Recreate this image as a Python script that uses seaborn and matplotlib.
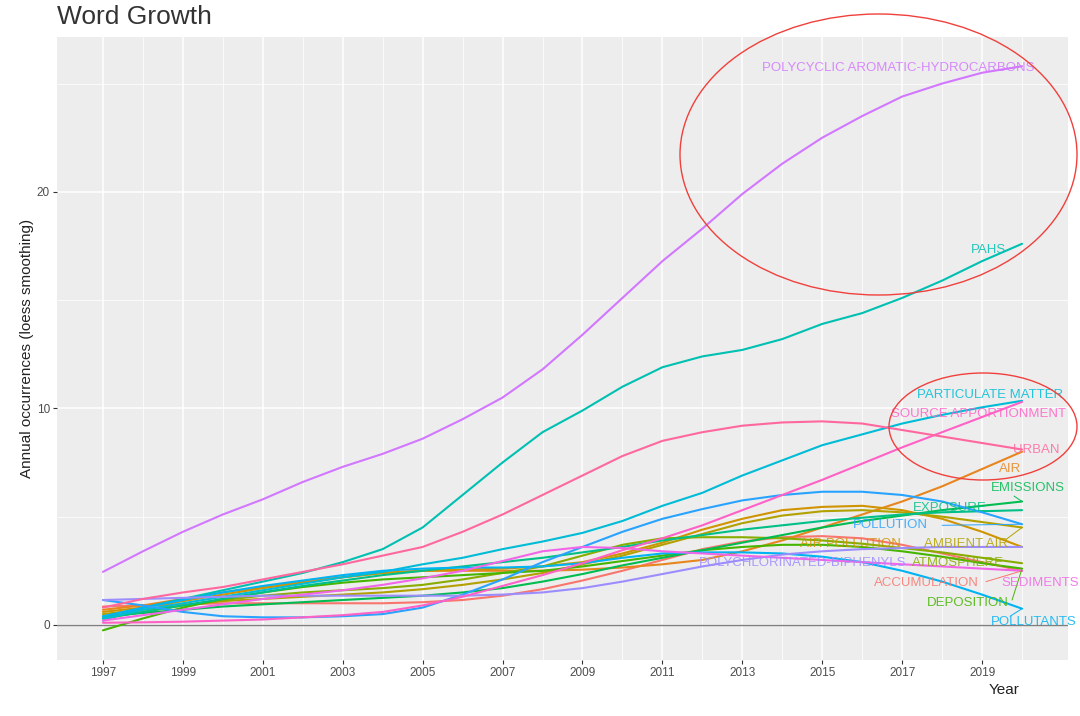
import numpy as np
import pandas as pd
import seaborn as sns
import matplotlib.pyplot as plt
from matplotlib.patches import Ellipse

years = list(range(1997, 2021))

terms = ["ACCUMULATION", "AIR", "AIR POLLUTION", "AMBIENT AIR", "ATMOSPHERE",
         "DEPOSITION", "EMISSIONS", "EXPOSURE", "PAHS", "PARTICULATE MATTER",
         "POLLUTANTS", "POLLUTION", "POLYCHLORINATED-BIPHENYLS",
         "POLYCYCLIC AROMATIC-HYDROCARBONS", "SEDIMENTS", "SOURCE APPORTIONMENT", "URBAN"]

accumulation = [0.85, 0.9, 0.95, 1.0, 1.0, 1.0, 1.0, 1.0, 1.05, 1.15, 1.35, 1.65,
                2.05, 2.5, 3.0, 3.5, 3.85, 4.05, 4.1, 4.0, 3.7, 3.3, 2.9, 2.5]
air = [0.7, 0.9, 1.2, 1.5, 1.75, 2.0, 2.2, 2.4, 2.5, 2.5, 2.5, 2.5,
       2.55, 2.65, 2.8, 3.0, 3.4, 3.9, 4.5, 5.1, 5.7, 6.4, 7.2, 8.0]
air_pollution = [0.6, 0.8, 1.1, 1.4, 1.7, 1.95, 2.2, 2.4, 2.5, 2.55, 2.6, 2.7,
                 2.9, 3.3, 3.8, 4.4, 4.9, 5.3, 5.45, 5.5, 5.3, 4.9, 4.3, 3.6]
ambient_air = [0.5, 0.7, 0.9, 1.1, 1.2, 1.3, 1.4, 1.5, 1.65, 1.85, 2.1, 2.4,
               2.8, 3.2, 3.7, 4.2, 4.7, 5.05, 5.25, 5.3, 5.2, 5.0, 4.75, 4.5]
atmosphere = [0.3, 0.6, 0.9, 1.15, 1.35, 1.5, 1.6, 1.7, 1.85, 2.1, 2.4, 2.7,
              3.2, 3.7, 4.0, 4.05, 4.05, 4.0, 3.9, 3.75, 3.55, 3.35, 3.1, 2.85]
deposition = [-0.25, 0.3, 0.8, 1.2, 1.5, 1.75, 1.95, 2.1, 2.2, 2.3, 2.4, 2.5,
              2.7, 2.95, 3.2, 3.45, 3.6, 3.7, 3.7, 3.6, 3.4, 3.15, 2.85, 2.6]
emissions = [0.4, 0.55, 0.7, 0.85, 0.95, 1.05, 1.15, 1.25, 1.35, 1.5, 1.7, 2.0,
             2.35, 2.75, 3.1, 3.45, 3.8, 4.15, 4.5, 4.8, 5.05, 5.3, 5.5, 5.7]
exposure = [0.3, 0.6, 0.9, 1.2, 1.5, 1.8, 2.05, 2.3, 2.5, 2.7, 2.9, 3.1,
            3.35, 3.6, 3.9, 4.15, 4.4, 4.6, 4.8, 4.95, 5.1, 5.2, 5.25, 5.3]
pahs = [0.2, 0.8, 1.2, 1.6, 2.0, 2.4, 2.9, 3.5, 4.5, 6.0, 7.5, 8.9,
        9.9, 11.0, 11.9, 12.4, 12.7, 13.2, 13.9, 14.4, 15.1, 15.9, 16.8, 17.6]
particulate_matter = [0.3, 0.7, 1.0, 1.3, 1.6, 1.9, 2.2, 2.45, 2.8, 3.1, 3.5, 3.85,
                      4.25, 4.8, 5.5, 6.1, 6.9, 7.6, 8.3, 8.8, 9.3, 9.7, 10.05, 10.35]
pollutants = [0.4, 0.8, 1.15, 1.5, 1.8, 2.05, 2.3, 2.5, 2.6, 2.65, 2.65, 2.7,
              2.85, 3.1, 3.3, 3.35, 3.35, 3.3, 3.15, 2.9, 2.5, 2.0, 1.4, 0.75]
pollution = [1.15, 0.9, 0.6, 0.4, 0.35, 0.35, 0.4, 0.5, 0.8, 1.4, 2.1, 2.9,
             3.6, 4.3, 4.9, 5.35, 5.75, 6.0, 6.15, 6.15, 6.0, 5.7, 5.2, 4.65]
pcbs = [1.15, 1.2, 1.25, 1.3, 1.35, 1.35, 1.35, 1.35, 1.35, 1.35, 1.4, 1.5,
        1.7, 2.0, 2.35, 2.7, 3.0, 3.25, 3.4, 3.5, 3.55, 3.6, 3.6, 3.6]
pahs_long = [2.45, 3.4, 4.3, 5.1, 5.8, 6.6, 7.3, 7.9, 8.6, 9.5, 10.5, 11.8,
             13.4, 15.1, 16.8, 18.3, 19.9, 21.3, 22.5, 23.5, 24.4, 25.0, 25.5, 25.8]
sediments = [0.2, 0.45, 0.7, 0.95, 1.2, 1.4, 1.6, 1.85, 2.15, 2.5, 2.95, 3.4,
             3.6, 3.55, 3.4, 3.3, 3.2, 3.1, 3.0, 2.9, 2.8, 2.7, 2.6, 2.5]
source_apportionment = [0.1, 0.12, 0.15, 0.2, 0.25, 0.35, 0.45, 0.6, 0.9, 1.3, 1.8, 2.3,
                        2.85, 3.45, 4.0, 4.6, 5.3, 6.0, 6.7, 7.45, 8.2, 8.9, 9.6, 10.3]
urban = [0.8, 1.2, 1.5, 1.75, 2.1, 2.45, 2.8, 3.2, 3.6, 4.3, 5.1, 6.0,
         6.9, 7.8, 8.5, 8.9, 9.2, 9.35, 9.4, 9.3, 9.0, 8.7, 8.4, 8.1]

series = [accumulation, air, air_pollution, ambient_air, atmosphere, deposition,
          emissions, exposure, pahs, particulate_matter, pollutants, pollution,
          pcbs, pahs_long, sediments, source_apportionment, urban]

# label placement (year, value) as ggrepel put them
label_pos = {
    "POLYCYCLIC AROMATIC-HYDROCARBONS": (2016.9, 25.7),
    "PAHS": (2019.15, 17.3),
    "PARTICULATE MATTER": (2019.2, 10.6),
    "SOURCE APPORTIONMENT": (2018.9, 9.75),
    "URBAN": (2020.35, 8.1),
    "AIR": (2019.7, 7.2),
    "EMISSIONS": (2020.15, 6.3),
    "EXPOSURE": (2018.2, 5.4),
    "POLLUTION": (2016.7, 4.6),
    "AIR POLLUTION": (2015.7, 3.75),
    "AMBIENT AIR": (2018.6, 3.75),
    "POLYCHLORINATED-BIPHENYLS": (2014.5, 2.85),
    "ATMOSPHERE": (2018.4, 2.85),
    "ACCUMULATION": (2017.6, 1.95),
    "SEDIMENTS": (2020.45, 1.95),
    "DEPOSITION": (2018.65, 1.0),
    "POLLUTANTS": (2020.3, 0.15),
}
# leader segments start points for labels far from their line end
leaders = {
    "POLLUTION": (2018.0, 4.6),
    "AMBIENT AIR": (2019.6, 3.95),
    "EMISSIONS": (2019.8, 5.95),
    "ACCUMULATION": (2019.1, 2.0),
    "DEPOSITION": (2019.75, 1.15),
    "POLLUTANTS": (2019.7, 0.4),
}


def hcl_hex(h, c=100, l=65):
    h = np.deg2rad(h)
    u, v = c * np.cos(h), c * np.sin(h)
    Y = ((l + 16) / 116) ** 3
    xn, yn, zn = 0.95047, 1.0, 1.08883
    d = xn + 15 * yn + 3 * zn
    up = u / (13 * l) + 4 * xn / d
    vp = v / (13 * l) + 9 * yn / d
    X = 9 * Y * up / (4 * vp)
    Z = Y * (12 - 3 * up - 20 * vp) / (4 * vp)
    rgb = np.array([3.2406 * X - 1.5372 * Y - 0.4986 * Z,
                    -0.9689 * X + 1.8758 * Y + 0.0415 * Z,
                    0.0557 * X - 0.2040 * Y + 1.0570 * Z])
    rgb = np.where(rgb <= 0.0031308, 12.92 * rgb, 1.055 * np.abs(rgb) ** (1 / 2.4) - 0.055)
    rgb = np.clip(rgb, 0, 1)
    return "#%02x%02x%02x" % tuple(int(round(x * 255)) for x in rgb)


n = len(terms)
palette = {t: hcl_hex(15 + i * 360 / n) for i, t in enumerate(terms)}

df = pd.DataFrame({
    "Year": np.tile(years, n),
    "value": np.concatenate(series),
    "term": np.repeat(terms, len(years)),
})

sns.set_style("darkgrid", {"axes.facecolor": "#EDEDED", "grid.color": "white"})
plt.rcParams["font.family"] = ["Liberation Sans", "DejaVu Sans"]

fig = plt.figure(figsize=(10.8, 7.16), dpi=100)
ax = fig.add_axes([57 / 1080, 1 - 660 / 716, (1068 - 57) / 1080, (660 - 37) / 716])

ax.axhline(0, color="#7f7f7f", lw=1.0, zorder=1)
sns.lineplot(data=df, x="Year", y="value", hue="term", palette=palette,
             lw=1.5, legend=False, ax=ax, zorder=2)

for t in terms:
    vals = df.loc[df.term == t, "value"].values
    lx, ly = label_pos[t]
    ax.text(lx, ly, t, color=palette[t], fontsize=9.5, ha="center", va="center",
            alpha=0.85, zorder=3)
    if t in leaders:
        sx, sy = leaders[t]
        ax.plot([sx, years[-1]], [sy, vals[-1]], color=palette[t], lw=0.7, zorder=2)

ax.set_xlim(1995.85, 2021.15)
ax.set_ylim(-1.62, 27.15)
ax.set_xticks(range(1997, 2021, 2))
ax.set_xticks(range(1998, 2021, 2), minor=True)
ax.set_yticks([0, 10, 20])
ax.set_yticks([5, 15, 25], minor=True)
ax.grid(which="major", color="white", lw=1.1)
ax.grid(which="minor", color="white", lw=0.55)
ax.tick_params(which="major", length=3, width=0.8, color="#333333",
               labelsize=8.5, labelcolor="#4D4D4D", bottom=True, left=True, pad=2)
ax.tick_params(which="minor", length=0)
for s in ax.spines.values():
    s.set_visible(False)
ax.set_xlabel("")
ax.set_ylabel("Annual occurrences (loess smoothing)", fontsize=11, color="#222222", labelpad=2)

fig.text(1020 / 1080, 1 - 690 / 716, "Year", fontsize=11, color="#222222",
         ha="right", va="center")
fig.text(57 / 1080, 1 - 17 / 716, "Word Growth", fontsize=19, color="#333333",
         ha="left", va="center")

# red highlight circles drawn over the figure
for cx, cy, w, h in [(878.5, 154.5, 397, 281), (983, 426.5, 188, 107)]:
    e = Ellipse((cx / 1080, 1 - cy / 716), w / 1080, h / 716, transform=fig.transFigure,
                fill=False, edgecolor="#F0403C", lw=1.0, clip_on=False)
    fig.add_artist(e)

fig.savefig("out.png", dpi=100)
